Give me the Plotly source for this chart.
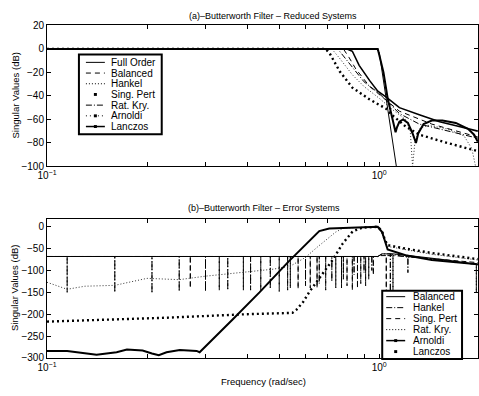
import plotly.graph_objects as go

# ---------------- (a) Reduced systems: frequency (rad/s) and singular values (dB)
full_f = [0.1, 0.5, 0.98, 1.0, 1.126, 1.14]
full_db = [0, 0, 0, -3, -100, -110]

bal_f = [0.1, 0.5, 0.78, 0.81, 0.85, 0.936, 1.05, 1.15, 1.44, 1.98]
bal_db = [0, 0, 0, -7, -17, -32, -44, -53, -64, -75]

hank_f = [0.1, 0.5, 0.72, 0.76, 0.83, 0.9, 1.0, 1.1, 1.2, 1.24, 1.26, 1.28, 1.32, 1.4, 1.6, 1.8, 1.9, 1.95]
hank_db = [0, 0, 0, -8, -22, -32, -42, -52, -60, -70, -100, -80, -68, -65, -68, -74, -85, -100]

sp_f = [0.1, 0.5, 0.99, 1.0, 1.03, 1.06, 1.09, 1.11, 1.12, 1.13, 1.15, 1.18, 1.22, 1.26, 1.29, 1.31, 1.36, 1.44, 1.55, 1.7, 1.85, 1.93, 1.98]
sp_db = [0, 0, 0, -5, -20, -42, -58, -67, -71, -67, -62, -60, -63, -72, -80, -72, -64, -61, -61, -63, -68, -73, -79]

rk_f = [0.1, 0.5, 0.75, 0.78, 0.83, 0.9, 1.0, 1.05, 1.15, 1.32, 1.6, 1.98]
rk_db = [0, 0, 0, -6, -16, -28, -38, -44, -55, -64, -70, -76]

arn_f = [0.1, 0.5, 0.69, 0.71, 0.76, 0.83, 0.936, 1.05, 1.09, 1.2, 1.32, 1.6, 1.98]
arn_db = [0, 0, 0, -4, -19, -33, -43, -51, -56, -66, -73, -80, -87]

lan_f = [0.1, 0.5, 0.8, 0.83, 0.87, 0.936, 0.99, 1.05, 1.15, 1.32, 1.52, 1.74, 1.98]
lan_db = [0, 0, 0, -2, -14, -27, -36, -41, -50, -56, -62, -66, -70]

# ---------------- (b) Error systems
e_bal_f = [0.1, 0.5, 0.99, 1.02, 1.1, 1.3, 1.6, 1.98]
e_bal_db = [-68, -68, -68, -62, -62, -68, -76, -87]

e_hank_base_f = [0.1, 0.5, 0.99, 1.02, 1.3, 1.98]
e_hank_base_db = [-68, -68, -68, -62, -70, -86]
e_hank_dip_f = [0.115, 0.16, 0.207, 0.25, 0.3, 0.35, 0.41, 0.47, 0.54, 0.6, 0.66, 0.72, 0.78, 0.84, 0.9, 0.95, 1.08, 1.22, 1.96]
e_hank_dip_top = [-68] * 16 + [-62, -70, -86]
e_hank_dip_low = [-150, -150, -152, -148, -148, -145, -145, -142, -140, -135, -130, -125, -120, -110, -105, -100, -150, -105, -150]

e_sp_base_f = [0.1, 0.5, 0.99, 1.0, 1.2, 1.5, 1.98]
e_sp_base_db = [-68, -68, -68, -66, -68, -74, -82]
e_sp_dip_f = [0.27, 0.33, 0.39, 0.44, 0.5, 0.53, 0.57, 0.62, 0.65, 0.69, 0.74, 0.77, 0.8, 0.83, 0.86, 0.88, 0.91, 0.93, 0.96, 1.05, 1.1]
e_sp_dip_top = [-68] * 19 + [-66, -66]
e_sp_dip_low = [-140, -145, -145, -145, -148, -145, -142, -140, -140, -145, -140, -140, -135, -145, -140, -130, -135, -120, -110, -150, -155]

e_rk_f = [0.1, 0.115, 0.13, 0.16, 0.2, 0.25, 0.3, 0.36, 0.42, 0.48, 0.54, 0.6, 0.65, 0.7, 0.74, 0.78, 0.9, 1.0, 1.03, 1.06, 1.44, 1.98]
e_rk_db = [-127, -143, -136, -134, -118, -121, -113, -107, -102, -97, -90, -70, -47, -27, -12, -3, -1, 0, -25, -45, -63, -76]

e_arn_f = [0.1, 0.115, 0.141, 0.162, 0.174, 0.194, 0.207, 0.217, 0.229, 0.251, 0.282, 0.288, 0.362, 0.436, 0.536, 0.617, 0.66, 0.707, 0.8, 0.9, 0.99, 1.02, 1.04, 1.06, 1.2, 1.44, 1.98]
e_arn_db = [-284, -284, -293, -287, -281, -283, -290, -294, -287, -282, -284, -287, -212, -150, -78, -31, -10, -4, -2, -1, 0, -12, -35, -52, -65, -76, -86]

e_lan_f = [0.1, 0.229, 0.4, 0.548, 0.563, 0.59, 0.616, 0.674, 0.724, 0.777, 0.831, 0.889, 0.99, 1.02, 1.04, 1.06, 1.2, 1.44, 1.98]
e_lan_db = [-217, -208, -200, -197, -190, -172, -149, -109, -76, -38, -11, -2, 0, -10, -30, -42, -50, -60, -74]

x_major_vals = [0.1, 1]
x_major_text = ["10<sup>−1</sup>", "10<sup>0</sup>"]
x_minor_vals = [0.2, 0.3, 0.4, 0.5, 0.6, 0.7, 0.8, 0.9, 2]
y_top_ticks = [-100, -80, -60, -40, -20, 0, 20]
y_bot_ticks = [-300, -250, -200, -150, -100, -50, 0]


def spikes(base_f, base_db, dip_f, dip_top, dip_low):
    pts = [(f, d, 0) for f, d in zip(base_f, base_db)]
    for f, t, l in zip(dip_f, dip_top, dip_low):
        pts.append((f, t, 1))
        pts.append((f, l, 2))
        pts.append((f, t, 3))
    pts.sort(key=lambda p: (p[0], p[2]))
    return [p[0] for p in pts], [p[1] for p in pts]


BLACK = "black"
FONT = "Liberation Sans, Arial, sans-serif"

fig = go.Figure()


def add(x, y, ax, width=1, dash="solid", color=BLACK):
    fig.add_trace(go.Scatter(x=x, y=y, mode="lines", xaxis="x" if ax == 1 else "x2",
                             yaxis="y" if ax == 1 else "y2",
                             line=dict(color=color, width=width, dash=dash),
                             showlegend=False, hoverinfo="skip"))


# top
add(hank_f, hank_db, 1, 1, "1px,2px", "#333")
add(rk_f, rk_db, 1, 1, "6px,2px,1px,2px")
add(bal_f, bal_db, 1, 1, "5px,4px")
add(arn_f, arn_db, 1, 2.4, "2px,3px")
add(lan_f, lan_db, 1, 1.6)
add(sp_f, sp_db, 1, 2)
add(full_f, full_db, 1, 1)

# bottom
hx, hy = spikes(e_hank_base_f, e_hank_base_db, e_hank_dip_f, e_hank_dip_top, e_hank_dip_low)
sx, sy = spikes(e_sp_base_f, e_sp_base_db, e_sp_dip_f, e_sp_dip_top, e_sp_dip_low)
add(hx, hy, 2, 1, "6px,2px,1px,2px")
add(sx, sy, 2, 1, "5px,3px")
add(e_bal_f, e_bal_db, 2, 1)
add(e_rk_f, e_rk_db, 2, 1, "1px,2px", "#333")
add(e_arn_f, e_arn_db, 2, 2)
add(e_lan_f, e_lan_db, 2, 2.4, "2px,3px")

xcommon = dict(type="log", range=[-1, -1 + 432 / 333], tickvals=x_major_vals, ticktext=x_major_text,
               ticks="inside", ticklen=4, tickcolor=BLACK, mirror="ticks", showline=True,
               minor=dict(tickvals=x_minor_vals, ticks="inside", ticklen=4, tickcolor=BLACK, showgrid=False),
               linecolor=BLACK, linewidth=1, showgrid=False, zeroline=False,
               tickfont=dict(size=10, color=BLACK, family=FONT))
ycommon = dict(ticks="inside", ticklen=4, tickcolor=BLACK, mirror="ticks", showline=True,
               linecolor=BLACK, linewidth=1, showgrid=False, zeroline=False,
               tickfont=dict(size=10, color=BLACK, family=FONT))

H = 396
W = 479
L = 47


def X(px):
    return (px - L) / (W - L)


def Y(py):
    return 1 - py / H


fig.update_layout(
    width=W, height=H, margin=dict(l=L, r=0, t=0, b=0),
    paper_bgcolor="white", plot_bgcolor="white",
    font=dict(family=FONT, color=BLACK),
    xaxis=dict(domain=[0, 1], anchor="y", **xcommon),
    yaxis=dict(domain=[Y(166), Y(21)], range=[-100, 20], tickvals=y_top_ticks, anchor="x", **ycommon),
    xaxis2=dict(domain=[0, 1], anchor="y2", **xcommon),
    yaxis2=dict(domain=[Y(363), Y(220)], range=[-300, 18], tickvals=y_bot_ticks, anchor="x2", **ycommon),
    showlegend=False,
)

ann = []
ann.append(dict(text="(a)–Butterworth Filter – Reduced Systems", x=X(274), y=Y(11), xref="paper", yref="paper",
                showarrow=False, font=dict(size=9), xanchor="center", yanchor="middle"))
ann.append(dict(text="(b)–Butterworth Filter – Error Systems", x=X(265), y=Y(209), xref="paper", yref="paper",
                showarrow=False, font=dict(size=9), xanchor="center", yanchor="middle"))
ann.append(dict(text="Singular Values (dB)", x=X(15), y=Y(93), xref="paper", yref="paper", textangle=-90,
                showarrow=False, font=dict(size=9.5), xanchor="center", yanchor="middle"))
ann.append(dict(text="Singular Values (dB)", x=X(15), y=Y(291), xref="paper", yref="paper", textangle=-90,
                showarrow=False, font=dict(size=9.5), xanchor="center", yanchor="middle"))
ann.append(dict(text="Frequency (rad/sec)", x=X(264), y=Y(387), xref="paper", yref="paper",
                showarrow=False, font=dict(size=9.5), xanchor="center", yanchor="middle"))

shapes = []


def legend_box(x0, y0, x1, y1):
    shapes.append(dict(type="rect", xref="paper", yref="paper", x0=X(x0), x1=X(x1), y0=Y(y1), y1=Y(y0),
                       line=dict(color=BLACK, width=2), fillcolor="white", layer="above"))


def legend_entry(label, yc, sx0, sx1, tx, style):
    kind, width, dash, marker = style
    if kind == "line":
        shapes.append(dict(type="line", xref="paper", yref="paper", x0=X(sx0), x1=X(sx1), y0=Y(yc), y1=Y(yc),
                           line=dict(color=BLACK, width=width, dash=dash), layer="above"))
    if marker:
        cx = (sx0 + sx1) / 2
        shapes.append(dict(type="rect", xref="paper", yref="paper", x0=X(cx - 1.5), x1=X(cx + 1.5),
                           y0=Y(yc + 1.5), y1=Y(yc - 1.5), line=dict(width=0), fillcolor=BLACK, layer="above"))
    ann.append(dict(text=label, x=X(tx), y=Y(yc), xref="paper", yref="paper", showarrow=False,
                    font=dict(size=10), xanchor="left", yanchor="middle"))


top_labels = ["Full Order", "Balanced", "Hankel", "Sing. Pert", "Rat. Kry.", "Arnoldi", "Lanczos"]
top_styles = [("line", 1, "solid", False), ("line", 1, "5px,4px", False), ("line", 1, "1px,2px", False),
              ("none", 1, "solid", True), ("line", 1, "6px,2px,1px,2px", False), ("line", 1, "1px,3px", True),
              ("line", 1.5, "solid", True)]
legend_box(79, 51, 162, 133)
for i, (lab, st) in enumerate(zip(top_labels, top_styles)):
    legend_entry(lab, 59 + i * 11, 86, 105, 109, st)

bot_labels = ["Balanced", "Hankel", "Sing. Pert", "Rat. Kry.", "Arnoldi", "Lanczos"]
bot_styles = [("line", 1, "solid", False), ("line", 1, "6px,2px,1px,2px", False), ("line", 1, "5px,4px", False),
              ("line", 1, "1px,2px", False), ("line", 1.5, "solid", True), ("none", 1, "solid", True)]
legend_box(383, 294, 463, 364)
for i, (lab, st) in enumerate(zip(bot_labels, bot_styles)):
    legend_entry(lab, 300 + i * 11.3, 387, 406, 412, st)

fig.update_layout(annotations=ann, shapes=shapes)
fig.write_html("out.html")
